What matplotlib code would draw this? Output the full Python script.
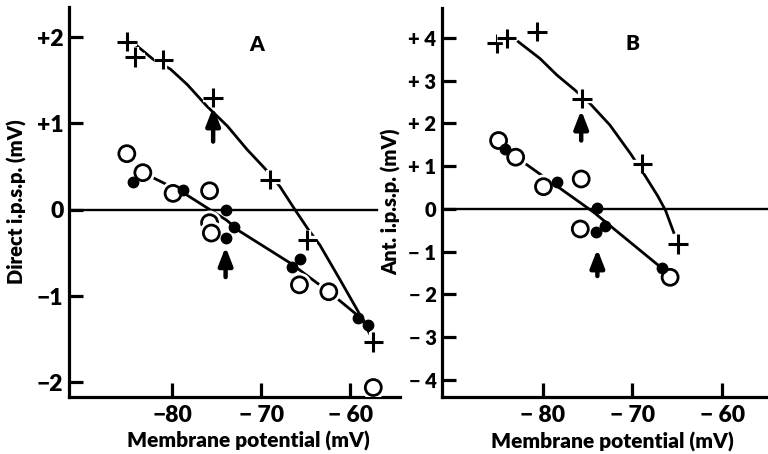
import matplotlib.pyplot as plt
import matplotlib.patheffects as pe

plt.rcParams['font.family'] = ['Lato', 'DejaVu Sans']
plt.rcParams['font.weight'] = 'heavy'

# Panel A: direct i.p.s.p.
a_plus_x = [-85.1, -84.2, -81.0, -75.4, -69.0, -64.8, -57.4]
a_plus_y = [1.95, 1.77, 1.74, 1.30, 0.35, -0.35, -1.53]
a_open_x = [-85.1, -83.3, -79.9, -75.8, -75.8, -75.6, -65.7, -62.4, -57.4]
a_open_y = [0.65, 0.43, 0.19, 0.22, -0.15, -0.27, -0.87, -0.95, -2.06]
a_dot_x = [-84.4, -78.8, -74.0, -74.0, -73.1, -66.5, -65.6, -59.1, -58.0]
a_dot_y = [0.32, 0.23, 0.0, -0.33, -0.20, -0.66, -0.57, -1.26, -1.34]
# hand-drawn fits through the points
a_fit_plus_x = [-84.2, -82.1, -80.2, -78.3, -76.1, -73.8, -71.6, -69.6, -67.9,
                -66.2, -64.7, -63.4, -61.2, -59.1, -57.5]
a_fit_plus_y = [1.92, 1.74, 1.63, 1.45, 1.20, 0.97, 0.70, 0.48, 0.27,
                0.0, -0.23, -0.41, -0.80, -1.18, -1.50]
a_fit_dot_x = [-83.3, -78.8, -73.9, -72.4, -66.7, -62.4, -58.5]
a_fit_dot_y = [0.43, 0.20, -0.12, -0.25, -0.62, -0.95, -1.28]
a_arrows = [(-75.4, 0.79, 1.19), (-74.0, -0.78, -0.43)]

# Panel B: antidromic i.p.s.p.
b_plus_x = [-85.1, -84.0, -80.6, -75.6, -68.9, -64.9]
b_plus_y = [3.87, 3.99, 4.15, 2.58, 1.06, -0.82]
b_open_x = [-84.9, -83.0, -79.9, -75.7, -75.8, -65.8]
b_open_y = [1.60, 1.21, 0.52, 0.70, -0.47, -1.60]
b_dot_x = [-84.2, -78.4, -73.9, -74.1, -73.1, -66.7]
b_dot_y = [1.41, 0.64, 0.02, -0.55, -0.39, -1.39]
b_fit_plus_x = [-82.7, -80.3, -78.4, -76.4, -74.7, -72.5, -70.2, -68.6, -67.2,
                -66.3, -65.4]
b_fit_plus_y = [3.91, 3.52, 3.13, 2.78, 2.46, 1.96, 1.29, 0.78, 0.31,
                -0.04, -0.55]
b_fit_dot_x = [-84.2, -74.3, -66.7]
b_fit_dot_y = [1.40, -0.08, -1.39]
b_arrows = [(-75.7, 1.60, 2.31), (-73.9, -1.57, -0.94)]

fig = plt.figure(figsize=(7.68, 4.54), dpi=100)
axA = fig.add_axes([69 / 768, 57 / 454, 331 / 768, 390 / 454])
axB = fig.add_axes([442 / 768, 57 / 454, 326 / 768, 389 / 454])

halo = [pe.withStroke(linewidth=6, foreground='white')]


def draw_panel(ax, px, py, ox, oy, dx, dy, fpx, fpy, fdx, fdy, arrows, zero_end):
    ax.plot(fpx, fpy, color='k', lw=2.0, zorder=2)
    ax.plot(fdx, fdy, color='k', lw=2.0, zorder=2)
    ax.plot(px, py, ls='none', marker='+', ms=14, mew=2.2, color='k',
            zorder=4, path_effects=halo)
    ax.plot(ox, oy, ls='none', marker='o', ms=11.5, mew=2.0, mfc='white',
            mec='k', zorder=4, path_effects=halo)
    ax.plot(dx, dy, ls='none', marker='o', ms=7.5, color='k', zorder=5)
    for x, y0, y1 in arrows:
        ax.annotate('', xy=(x, y1), xytext=(x, y0),
                    arrowprops=dict(arrowstyle='-|>,head_width=0.35,head_length=0.9',
                                    lw=3.2, color='k', mutation_scale=12,
                                    shrinkA=0, shrinkB=0), zorder=6)
    for side in ('top', 'right'):
        ax.spines[side].set_visible(False)
    for side in ('left', 'bottom'):
        ax.spines[side].set_linewidth(2.3)
    ax.axhline(0, xmax=zero_end, color='k', lw=1.7, zorder=1)
    ax.tick_params(direction='in', width=2.3, length=10, labelsize=16.5)
    ax.tick_params(axis='x', pad=6)
    ax.tick_params(axis='y', pad=4)


draw_panel(axA, a_plus_x, a_plus_y, a_open_x, a_open_y, a_dot_x, a_dot_y,
           a_fit_plus_x, a_fit_plus_y, a_fit_dot_x, a_fit_dot_y, a_arrows, 0.93)
draw_panel(axB, b_plus_x, b_plus_y, b_open_x, b_open_y, b_dot_x, b_dot_y,
           b_fit_plus_x, b_fit_plus_y, b_fit_dot_x, b_fit_dot_y, b_arrows, 1.0)

axA.set_xlim(-91.6, -54.4)
axA.set_ylim(-2.17, 2.35)
axA.set_xticks([-80, -70, -60])
axA.set_xticklabels(['\u221280', '\u2212 70', '\u2212 60'])
axA.set_yticks([-2, -1, 0, 1, 2])
axA.set_yticklabels(['\u22122', '\u22121', '0', '+1', '+2'])
axA.text(-70.5, 1.92, 'A', fontsize=15, ha='center', va='center')

axB.set_xlim(-91.2, -54.9)
axB.set_ylim(-4.4, 4.7)
axB.set_xticks([-80, -70, -60])
axB.set_xticklabels(['\u2212 80', '\u2212 70', '\u2212 60'])
axB.set_yticks([-4, -3, -2, -1, 0, 1, 2, 3, 4])
axB.set_yticklabels(['\u2212 4', '\u2212 3', '\u2212 2', '\u2212 1', '0',
                     '+ 1', '+ 2', '+ 3', '+ 4'])
axB.tick_params(axis='y', labelsize=14.5)
axB.text(-70.0, 3.86, 'B', fontsize=15, ha='center', va='center')

fig.text(248 / 768, 1 - 441 / 454, 'Membrane potential (mV)', fontsize=15,
         ha='center', va='center')
fig.text(612 / 768, 1 - 442 / 454, 'Membrane potential (mV)', fontsize=15,
         ha='center', va='center')
fig.text(17 / 768, 1 - 202 / 454, 'Direct i.p.s.p. (mV)', fontsize=14.5,
         rotation=90, ha='center', va='center')
fig.text(391 / 768, 1 - 202 / 454, 'Ant. i.p.s.p. (mV)', fontsize=14.5,
         rotation=90, ha='center', va='center')

fig.savefig('out.png', dpi=100)
